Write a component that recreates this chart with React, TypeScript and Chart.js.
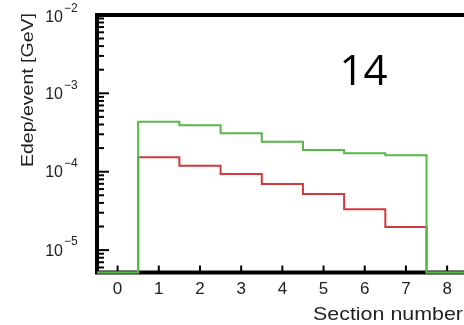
import React, { useEffect, useRef } from "react";
import { Chart, registerables } from "chart.js";

Chart.register(...registerables);

// ---- data ----
const sections = [0, 1, 2, 3, 4, 5, 6, 7, 8, 9];
const greenValues = [0, 4.34e-4, 3.91e-4, 3.09e-4, 2.41e-4, 1.89e-4, 1.72e-4, 1.62e-4, 0, 0];
const redValues = [0, 1.53e-4, 1.19e-4, 9.35e-5, 6.97e-5, 5.2e-5, 3.31e-5, 1.97e-5, 0, 0];
const xTickValues = [0, 1, 2, 3, 4, 5, 6, 7, 8];
const yDecadeExponents = [-2, -3, -4, -5];
const xTitle = "Section number";
const yTitle = "Edep/event [GeV]";
const bigLabel = "14";

const Y_MIN = 5.18e-6;
const Y_MAX = 1e-2;
const X_MIN = -0.5;
const X_MAX = 8.41;

const W = 464;
const H = 325;
const FONT = '"Liberation Sans", Arial, Helvetica, sans-serif';

function histPoints(values: number[]) {
  const pts = sections.map((s, i) => ({ x: s - 0.5, y: values[i] > 0 ? values[i] : Y_MIN }));
  const last = values.length - 1;
  pts.push({ x: sections[last] + 0.5, y: values[last] > 0 ? values[last] : Y_MIN });
  return pts;
}

function fittedText(
  ctx: CanvasRenderingContext2D,
  text: string,
  x: number,
  y: number,
  targetW: number,
  font: string,
  align: CanvasTextAlign,
  rotate: number
) {
  ctx.save();
  ctx.font = font;
  const w = ctx.measureText(text).width;
  ctx.translate(x, y);
  if (rotate) ctx.rotate(rotate);
  ctx.scale(targetW / w, 1);
  ctx.textAlign = align;
  ctx.textBaseline = "alphabetic";
  ctx.fillText(text, 0, 0);
  ctx.restore();
}

const framePlugin = {
  id: "rootFrame",
  beforeDatasetsDraw(chart: any) {
    const { ctx, chartArea } = chart;
    const xs = chart.scales.x;
    const ys = chart.scales.y;
    const { left, top, bottom, right } = chartArea;
    ctx.save();
    ctx.strokeStyle = "#000";
    ctx.lineWidth = 2;
    for (const e of yDecadeExponents) {
      for (let m = 1; m <= 9; m++) {
        const v = m * Math.pow(10, e - 1);
        if (v < Y_MIN || v > Y_MAX) continue;
        const py = ys.getPixelForValue(v);
        ctx.beginPath();
        ctx.moveTo(left, py);
        ctx.lineTo(left + (m === 1 ? 12 : 7), py);
        ctx.stroke();
      }
    }
    for (const v of xTickValues) {
      const px = xs.getPixelForValue(v);
      ctx.beginPath();
      ctx.moveTo(px, bottom);
      ctx.lineTo(px, bottom - 7);
      ctx.stroke();
    }
    ctx.lineWidth = 4;
    ctx.beginPath();
    ctx.moveTo(right + 5, top);
    ctx.lineTo(left, top);
    ctx.lineTo(left, bottom);
    ctx.lineTo(right + 5, bottom);
    ctx.stroke();
    ctx.restore();
  },
  afterDraw(chart: any) {
    const { ctx, chartArea } = chart;
    const xs = chart.scales.x;
    const ys = chart.scales.y;
    ctx.save();
    ctx.fillStyle = "#222";
    ctx.font = `17px ${FONT}`;
    ctx.textAlign = "center";
    ctx.textBaseline = "middle";
    for (const v of xTickValues) {
      ctx.fillText(String(v), xs.getPixelForValue(v), chartArea.bottom + 16.5);
    }
    for (const e of yDecadeExponents) {
      const py = ys.getPixelForValue(Math.pow(10, e));
      const ly = e === -2 ? py + 2 : py;
      ctx.font = `16px ${FONT}`;
      ctx.textAlign = "right";
      ctx.textBaseline = "middle";
      const baseRight = 63;
      ctx.fillText("10", baseRight, ly + 1);
      ctx.font = `12px ${FONT}`;
      ctx.textAlign = "left";
      ctx.fillText("\u2212" + String(Math.abs(e)), baseRight + 1, ly - 8);
    }
    fittedText(ctx, xTitle, 463, 320, 150, `19px ${FONT}`, "right", 0);
    fittedText(ctx, yTitle, 32.7, 90, 154, `16px ${FONT}`, "center", -Math.PI / 2);
    ctx.font = `42px "Open Sans", Lato, sans-serif`;
    ctx.textAlign = "center";
    ctx.textBaseline = "alphabetic";
    ctx.fillStyle = "#000";
    ctx.fillText(bigLabel, 363.5, 85);
    ctx.restore();
  },
};

export default function App() {
  const ref = useRef<HTMLCanvasElement | null>(null);
  useEffect(() => {
    if (!ref.current) return;
    const chart = new Chart(ref.current, {
      type: "line",
      data: {
        datasets: [
          {
            label: "green",
            data: histPoints(greenValues),
            borderColor: "#55b848",
            borderWidth: 2,
            stepped: "before",
            pointRadius: 0,
            fill: false,
            clip: false as any,
          },
          {
            label: "red",
            data: histPoints(redValues),
            borderColor: "#cf3a3f",
            borderWidth: 2,
            stepped: "before",
            pointRadius: 0,
            fill: false,
            clip: false as any,
          },
        ],
      },
      options: {
        animation: false,
        responsive: false,
        maintainAspectRatio: false,
        events: [],
        layout: { padding: { left: 97, top: 14.9, right: 0, bottom: 52.5 } },
        plugins: { legend: { display: false }, tooltip: { enabled: false }, title: { display: false } },
        scales: {
          x: { type: "linear", min: X_MIN, max: X_MAX, display: false },
          y: { type: "logarithmic", min: Y_MIN, max: Y_MAX, display: false },
        },
      },
      plugins: [framePlugin],
    });
    return () => chart.destroy();
  }, []);
  return (
    <div style={{ position: "fixed", left: 0, top: 0, width: W, height: H, background: "#fff", overflow: "hidden" }}>
      <canvas ref={ref} width={W} height={H} style={{ display: "block" }} />
    </div>
  );
}
